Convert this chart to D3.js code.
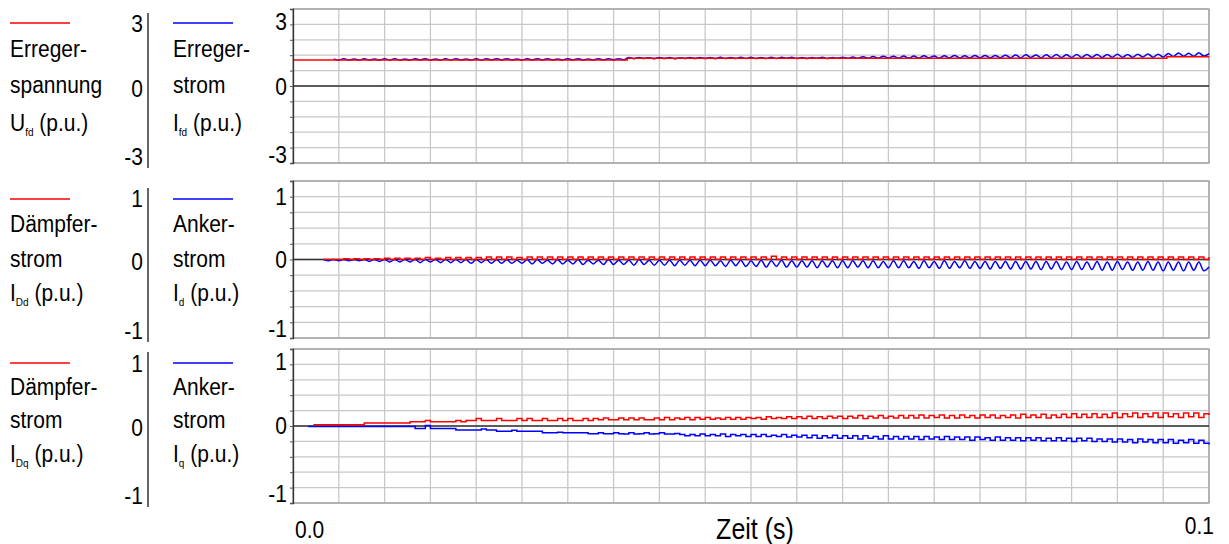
<!DOCTYPE html>
<html>
<head>
<meta charset="utf-8">
<script src="https://cdn.jsdelivr.net/npm/d3@7"></script>
<style>
  body { margin: 0; background: #fff; }
  svg { display: block; font-family: "Liberation Sans", Arial, sans-serif; }
</style>
</head>
<body>
<div id="container"></div>
<script>
/* DATA */
const timeEnd = 0.1;
const sampleCount = 180; // one sample every 0.1/180 s
const xTickLabels = ["0.0", "0.1"];
const xTitle = "Zeit (s)";

// Erregerspannung, stepped
const ufdTimes = [0, 0.0365, 0.0954, 0.1];
const ufdValues = [1.27, 1.35, 1.43, 1.43];

// Erregerstrom
const ifdValues = [
  null,null,null,null,null,null,null,null,1.32,1.26,1.33,1.26,1.32,1.26,1.33,1.26,1.32,1.26,1.33,1.26,
  1.33,1.26,1.32,1.26,1.33,1.27,1.33,1.26,1.32,1.26,1.33,1.26,1.33,1.27,1.32,1.26,1.33,1.26,1.33,1.27,
  1.33,1.27,1.33,1.27,1.32,1.26,1.33,1.27,1.33,1.27,1.33,1.27,1.32,1.27,1.33,1.27,1.33,1.27,1.32,1.27,
  1.33,1.27,1.33,1.28,1.33,1.28,1.39,1.33,1.39,1.34,1.38,1.33,1.39,1.34,1.39,1.33,1.38,1.34,1.39,1.34,
  1.39,1.34,1.39,1.33,1.40,1.34,1.39,1.34,1.40,1.34,1.40,1.34,1.39,1.34,1.40,1.34,1.40,1.35,1.40,1.34,
  1.39,1.34,1.39,1.35,1.40,1.34,1.39,1.35,1.40,1.35,1.41,1.35,1.43,1.35,1.44,1.35,1.45,1.36,1.45,1.36,
  1.46,1.36,1.46,1.36,1.47,1.37,1.46,1.36,1.47,1.37,1.48,1.37,1.47,1.37,1.48,1.37,1.48,1.38,1.49,1.38,
  1.50,1.38,1.51,1.38,1.52,1.39,1.51,1.38,1.52,1.39,1.53,1.39,1.52,1.39,1.53,1.39,1.54,1.40,1.53,1.39,
  1.54,1.40,1.55,1.40,1.54,1.40,1.55,1.41,1.56,1.40,1.55,1.41,1.58,1.44,1.61,1.45,1.59,1.45,1.62,1.46,
  1.58
];

// Daempferstrom d-Achse
const iDdValues = [
  null,null,null,null,null,null,0.00,0.00,0.00,0.00,0.01,0.00,0.01,0.00,0.01,0.00,0.01,0.00,0.02,0.00,
  0.02,0.00,0.02,0.00,0.02,0.00,0.03,0.00,0.02,0.00,0.03,0.00,0.03,0.00,0.03,0.00,0.03,0.00,0.04,0.00,
  0.04,0.00,0.04,0.00,0.03,0.00,0.04,0.00,0.04,0.00,0.04,0.00,0.04,0.00,0.04,0.00,0.04,0.00,0.04,0.00,
  0.04,0.00,0.04,0.00,0.04,0.00,0.04,0.00,0.04,0.00,0.04,0.00,0.04,0.00,0.04,0.00,0.04,0.00,0.04,0.00,
  0.04,0.00,0.04,0.00,0.04,0.00,0.04,0.00,0.04,0.00,0.04,0.00,0.04,0.00,0.05,0.00,0.04,0.00,0.04,0.00,
  0.04,0.00,0.04,0.00,0.04,0.00,0.04,0.00,0.04,0.00,0.04,0.00,0.04,0.00,0.04,0.00,0.04,0.00,0.04,0.00,
  0.04,0.00,0.04,0.00,0.04,0.00,0.04,0.00,0.04,0.00,0.04,0.00,0.04,0.00,0.04,0.00,0.04,0.00,0.04,0.00,
  0.04,0.00,0.04,0.00,0.04,0.00,0.04,0.00,0.04,0.00,0.04,0.00,0.04,0.00,0.04,0.00,0.04,0.00,0.04,0.00,
  0.04,0.00,0.04,0.00,0.04,0.00,0.04,0.00,0.04,0.00,0.04,0.00,0.04,0.00,0.04,0.00,0.04,0.00,0.04,0.00,
  0.04
];

// Ankerstrom d-Achse
const idValues = [
  null,null,null,null,null,null,0.00,-0.02,0.00,-0.02,0.00,-0.02,0.00,-0.02,0.00,-0.03,0.00,-0.03,0.00,-0.04,
  0.00,-0.04,0.00,-0.04,0.00,-0.05,0.00,-0.04,0.00,-0.05,0.00,-0.05,0.00,-0.05,0.00,-0.06,0.00,-0.05,0.00,-0.06,
  0.00,-0.06,0.00,-0.06,-0.01,-0.06,0.00,-0.07,0.00,-0.06,-0.01,-0.07,0.00,-0.07,-0.01,-0.07,0.00,-0.08,-0.01,-0.07,
  -0.01,-0.08,0.00,-0.08,-0.01,-0.08,-0.01,-0.09,0.00,-0.08,-0.01,-0.09,-0.01,-0.09,-0.01,-0.10,-0.01,-0.09,-0.01,-0.10,
  -0.01,-0.10,-0.01,-0.10,-0.02,-0.11,-0.01,-0.10,-0.01,-0.11,-0.02,-0.11,-0.01,-0.12,-0.02,-0.11,-0.01,-0.12,-0.02,-0.12,
  -0.02,-0.12,-0.02,-0.13,-0.02,-0.12,-0.02,-0.13,-0.02,-0.13,-0.02,-0.12,-0.02,-0.13,-0.02,-0.13,-0.03,-0.13,-0.02,-0.13,
  -0.02,-0.13,-0.03,-0.14,-0.02,-0.13,-0.03,-0.14,-0.02,-0.14,-0.03,-0.13,-0.02,-0.14,-0.03,-0.14,-0.03,-0.15,-0.03,-0.14,
  -0.03,-0.15,-0.03,-0.15,-0.03,-0.15,-0.03,-0.16,-0.03,-0.15,-0.03,-0.16,-0.04,-0.16,-0.03,-0.16,-0.04,-0.16,-0.03,-0.17,
  -0.04,-0.17,-0.03,-0.16,-0.04,-0.17,-0.04,-0.17,-0.03,-0.17,-0.04,-0.18,-0.04,-0.17,-0.04,-0.18,-0.04,-0.17,-0.04,-0.18,
  -0.12
];

// Daempferstrom q-Achse
const iDqValues = [
  null,null,null,null,0.02,0.02,0.02,0.02,0.02,0.02,0.02,0.02,0.02,0.02,0.05,0.05,0.05,0.05,0.05,0.05,
  0.05,0.05,0.05,0.07,0.07,0.07,0.09,0.07,0.07,0.07,0.07,0.07,0.09,0.07,0.09,0.09,0.12,0.09,0.09,0.09,
  0.12,0.09,0.09,0.09,0.12,0.09,0.12,0.09,0.09,0.12,0.09,0.09,0.12,0.09,0.12,0.09,0.09,0.12,0.09,0.12,
  0.10,0.13,0.10,0.10,0.13,0.10,0.13,0.10,0.13,0.10,0.10,0.13,0.10,0.14,0.10,0.13,0.11,0.14,0.10,0.14,
  0.11,0.14,0.11,0.13,0.11,0.14,0.11,0.14,0.11,0.14,0.12,0.14,0.11,0.15,0.12,0.14,0.12,0.15,0.12,0.15,
  0.12,0.16,0.12,0.15,0.12,0.16,0.13,0.16,0.12,0.16,0.13,0.17,0.12,0.16,0.13,0.17,0.13,0.16,0.13,0.17,
  0.13,0.17,0.13,0.18,0.13,0.17,0.14,0.18,0.13,0.17,0.13,0.18,0.14,0.17,0.13,0.18,0.14,0.18,0.13,0.17,
  0.14,0.18,0.13,0.19,0.14,0.18,0.14,0.19,0.13,0.18,0.14,0.19,0.14,0.20,0.14,0.19,0.14,0.20,0.14,0.19,
  0.14,0.21,0.14,0.20,0.15,0.21,0.14,0.20,0.15,0.21,0.14,0.21,0.15,0.20,0.14,0.21,0.15,0.21,0.14,0.20,
  0.18
];

// Ankerstrom q-Achse
const iqValues = [
  null,null,null,-0.01,-0.01,-0.01,-0.01,-0.01,-0.01,-0.01,-0.01,-0.01,-0.01,-0.01,-0.01,-0.01,-0.01,-0.01,-0.01,-0.01,
  -0.01,-0.01,-0.01,-0.01,-0.04,-0.04,0.01,-0.04,-0.04,-0.04,-0.04,-0.04,-0.065,-0.065,-0.065,-0.065,-0.065,-0.05,-0.065,-0.065,
  -0.085,-0.085,-0.085,-0.07,-0.085,-0.085,-0.085,-0.085,-0.085,-0.11,-0.11,-0.11,-0.10,-0.11,-0.11,-0.11,-0.11,-0.11,-0.125,-0.125,
  -0.11,-0.125,-0.125,-0.11,-0.125,-0.13,-0.11,-0.13,-0.125,-0.11,-0.13,-0.125,-0.11,-0.13,-0.13,-0.12,-0.14,-0.16,-0.14,-0.16,
  -0.13,-0.16,-0.14,-0.16,-0.13,-0.17,-0.14,-0.16,-0.14,-0.17,-0.14,-0.17,-0.14,-0.17,-0.15,-0.17,-0.14,-0.18,-0.15,-0.18,
  -0.15,-0.19,-0.15,-0.20,-0.16,-0.19,-0.15,-0.20,-0.16,-0.20,-0.16,-0.21,-0.16,-0.20,-0.17,-0.21,-0.16,-0.21,-0.17,-0.21,
  -0.17,-0.21,-0.17,-0.22,-0.17,-0.21,-0.18,-0.22,-0.17,-0.22,-0.18,-0.22,-0.18,-0.23,-0.18,-0.22,-0.19,-0.23,-0.18,-0.23,
  -0.19,-0.23,-0.19,-0.24,-0.19,-0.23,-0.19,-0.24,-0.20,-0.24,-0.19,-0.24,-0.20,-0.25,-0.20,-0.24,-0.20,-0.25,-0.21,-0.25,
  -0.21,-0.26,-0.21,-0.26,-0.22,-0.27,-0.21,-0.26,-0.22,-0.27,-0.22,-0.27,-0.22,-0.28,-0.23,-0.27,-0.22,-0.28,-0.23,-0.28,
  -0.30
];

const panelDomains = [[-3.75, 3.75], [-1.25, 1.25], [-1.25, 1.25]];
const panelGridSteps = [0.75, 0.25, 0.25];
const panelTickValues = [[3, 0, -3], [1, 0, -1], [1, 0, -1]];

const redLabels = [
  ["Erreger-", "spannung", ["U", "fd", "\u00a0(p.u.)"]],
  ["Dämpfer-", "strom", ["I", "Dd", "\u00a0(p.u.)"]],
  ["Dämpfer-", "strom", ["I", "Dq", "\u00a0(p.u.)"]]
];
const blueLabels = [
  ["Erreger-", "strom", ["I", "fd", "\u00a0(p.u.)"]],
  ["Anker-", "strom", ["I", "d", "\u00a0(p.u.)"]],
  ["Anker-", "strom", ["I", "q", "\u00a0(p.u.)"]]
];

/* CONSTANTS AND GLOBALS */
const width = 1229, height = 544;
const plotLeft = 293, plotRight = 1209;
const red = "#ff0000", blue = "#0000ff";
const fontSize = 21;
const textStretch = 1.15; // the original lettering is a bit taller than Arial

const panels = [
  { top: 9, bottom: 163, legendY: 23, lineYs: [57, 93, 131], sepTop: 13, sepBottom: 168, labelShift: [-1, 2, 8] },
  { top: 181, bottom: 338, legendY: 199, lineYs: [232, 267, 301], sepTop: 188, sepBottom: 342, labelShift: [1, 1, 8] },
  { top: 349, bottom: 503, legendY: 363, lineYs: [395, 428, 462], sepTop: 352, sepBottom: 507, labelShift: [-1, 1, 7] }
];

const sampleTimes = d3.range(sampleCount + 1).map(i => i * timeEnd / sampleCount);

const panelSeries = [
  [
    { times: sampleTimes, values: ifdValues, color: blue, curve: d3.curveMonotoneX },
    { times: ufdTimes, values: ufdValues, color: red, curve: d3.curveStepAfter }
  ],
  [
    { times: sampleTimes, values: idValues, color: blue, curve: d3.curveMonotoneX },
    { times: sampleTimes, values: iDdValues, color: red, curve: d3.curveStepAfter }
  ],
  [
    { times: sampleTimes, values: iqValues, color: blue, curve: d3.curveStepAfter },
    { times: sampleTimes, values: iDqValues, color: red, curve: d3.curveStepAfter }
  ]
];

const svg = d3.select("#container")
  .append("svg")
  .attr("width", width)
  .attr("height", height);

const xScale = d3.scaleLinear()
  .domain([0, timeEnd])
  .range([plotLeft, plotRight]);

// text with the slight vertical stretch, optionally with a subscript
function addText(g, x, y, content, anchor, size) {
  const t = g.append("text")
    .attr("transform", `translate(${x},${y}) scale(1,${textStretch})`)
    .attr("text-anchor", anchor || "start")
    .attr("font-size", size || fontSize)
    .attr("fill", "#000");
  if (typeof content === "string") {
    t.text(content);
  } else {
    t.append("tspan").text(content[0]);
    t.append("tspan").attr("font-size", 10).attr("dy", 4).text(content[1]);
    t.append("tspan").attr("dy", -4).text(content[2]);
  }
  return t;
}

panels.forEach((p, k) => {
  const g = svg.append("g");
  const yScale = d3.scaleLinear()
    .domain(panelDomains[k])
    .range([p.bottom, p.top]);

  const gridY = d3.range(panelDomains[k][0], panelDomains[k][1] + 1e-9, panelGridSteps[k]);
  const gridX = d3.range(0, timeEnd + 1e-9, 0.005);

  // grid
  g.selectAll("line.gx")
    .data(gridX)
    .join("line")
    .attr("class", "gx")
    .attr("x1", d => xScale(d)).attr("x2", d => xScale(d))
    .attr("y1", p.top).attr("y2", p.bottom)
    .attr("stroke", "#c8c8c8")
    .attr("stroke-width", 1.3);

  g.selectAll("line.gy")
    .data(gridY)
    .join("line")
    .attr("class", "gy")
    .attr("x1", plotLeft).attr("x2", plotRight)
    .attr("y1", d => yScale(d)).attr("y2", d => yScale(d))
    .attr("stroke", "#c8c8c8")
    .attr("stroke-width", 1.3);

  // frame
  g.append("rect")
    .attr("x", plotLeft).attr("y", p.top)
    .attr("width", plotRight - plotLeft).attr("height", p.bottom - p.top)
    .attr("fill", "none")
    .attr("stroke", "#a0a0a0")
    .attr("stroke-width", 1.3);

  // zero line
  g.append("line")
    .attr("x1", plotLeft).attr("x2", plotRight)
    .attr("y1", yScale(0)).attr("y2", yScale(0))
    .attr("stroke", "#333")
    .attr("stroke-width", 1.3);

  // traces, red over blue
  panelSeries[k].forEach(s => {
    const pts = s.times.map((t, i) => [t, s.values[i]]);
    const line = d3.line()
      .defined(d => d[1] != null)
      .x(d => xScale(d[0]))
      .y(d => yScale(d[1]))
      .curve(s.curve);
    g.append("path")
      .datum(pts)
      .attr("d", line)
      .attr("fill", "none")
      .attr("stroke", s.color)
      .attr("stroke-width", 1.5);
  });

  // left axis with small ticks
  const yAxis = d3.axisLeft(yScale)
    .tickValues(gridY)
    .tickSize(3)
    .tickFormat("");
  const ax = g.append("g")
    .attr("transform", `translate(${plotLeft},0)`)
    .call(yAxis);
  ax.select(".domain").attr("stroke", "#333").attr("stroke-width", 1.3);
  ax.selectAll(".tick line").attr("stroke", "#555");

  // tick labels on the plot and in the left column
  panelTickValues[k].forEach((v, i) => {
    const ty = yScale(v) + p.labelShift[i] + 7;
    addText(g, 287, ty, String(v), "end");
    addText(g, 143, ty + 2, String(v), "end");
  });

  // separator between the two label columns
  g.append("line")
    .attr("x1", 148).attr("x2", 148)
    .attr("y1", p.sepTop).attr("y2", p.sepBottom)
    .attr("stroke", "#333")
    .attr("stroke-width", 1.5);

  // legend swatches
  g.append("line")
    .attr("x1", 10).attr("x2", 70)
    .attr("y1", p.legendY).attr("y2", p.legendY)
    .attr("stroke", red).attr("stroke-width", 1.3);
  g.append("line")
    .attr("x1", 173).attr("x2", 233)
    .attr("y1", p.legendY).attr("y2", p.legendY)
    .attr("stroke", blue).attr("stroke-width", 1.3);

  redLabels[k].forEach((c, i) => addText(g, 10, p.lineYs[i], c));
  blueLabels[k].forEach((c, i) => addText(g, 173, p.lineYs[i], c));
});

// time axis labels
addText(svg, xScale(0) + 2, 538, xTickLabels[0], "start");
addText(svg, xScale(timeEnd) + 5, 534, xTickLabels[1], "end");
addText(svg, 755, 539, xTitle, "middle", 25);
</script>
</body>
</html>
